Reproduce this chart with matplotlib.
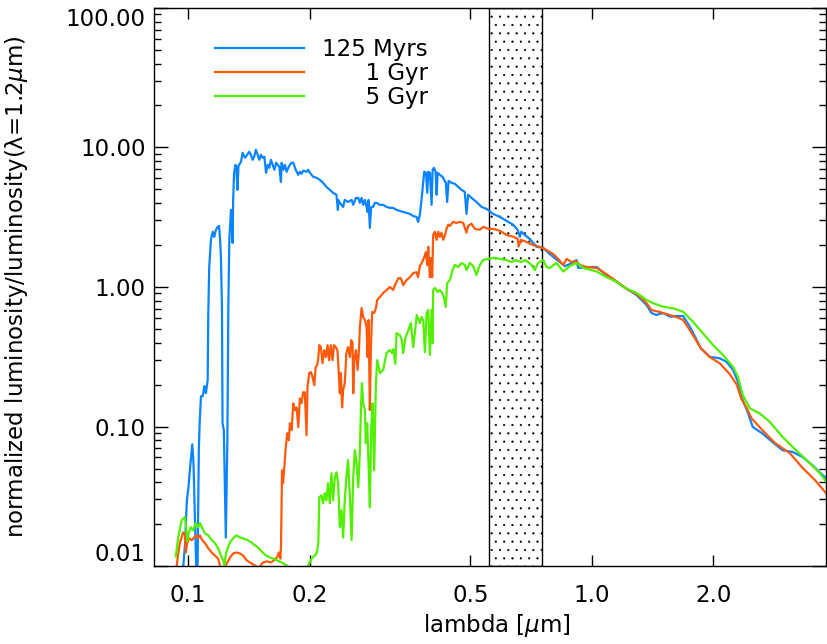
import matplotlib
matplotlib.use('Agg')
import matplotlib.pyplot as plt
from matplotlib.ticker import FixedLocator, FixedFormatter, NullLocator, LogLocator

plt.rcParams['font.family'] = ['DejaVu Sans']
plt.rcParams['hatch.linewidth'] = 0.35

# 125 Myrs population
wave_125myr = [
    0.0971, 0.0983, 0.0994, 0.1003, 0.1012, 0.1025, 0.1032, 0.1041, 0.1049, 0.1056,
    0.1064, 0.1069, 0.1077, 0.1088, 0.1098, 0.1108, 0.1119, 0.1123, 0.1129, 0.1140,
    0.1152, 0.1162, 0.1173, 0.1185, 0.1194, 0.1200, 0.1207, 0.1214, 0.1218, 0.1227,
    0.1241, 0.1252, 0.1259, 0.1266, 0.1278, 0.1285, 0.1290, 0.1294, 0.1301, 0.1311,
    0.1318, 0.1326, 0.1334, 0.1353, 0.1366, 0.1384, 0.1402, 0.1418, 0.1432, 0.1446,
    0.1459, 0.1473, 0.1488, 0.1502, 0.1517, 0.1531, 0.1546, 0.1561, 0.1576, 0.1590,
    0.1605, 0.1621, 0.1637, 0.1653, 0.1669, 0.1684, 0.1699, 0.1706, 0.1722, 0.1738,
    0.1755, 0.1772, 0.1788, 0.1806, 0.1823, 0.1841, 0.1858, 0.1875, 0.1893, 0.1911,
    0.1929, 0.1966, 0.1985, 0.2004, 0.2024, 0.2043, 0.2083, 0.2121, 0.2161, 0.2202,
    0.2245, 0.2288, 0.2332, 0.2351, 0.2358, 0.2377, 0.2422, 0.2445, 0.2493, 0.2542,
    0.2566, 0.2606, 0.2641, 0.2665, 0.2691, 0.2716, 0.2742, 0.2769, 0.2785, 0.2800,
    0.2821, 0.2842, 0.2875, 0.2903, 0.2931, 0.2987, 0.3044, 0.3102, 0.3162, 0.3223,
    0.3285, 0.3347, 0.3411, 0.3477, 0.3543, 0.3611, 0.3680, 0.3713, 0.3751, 0.3787,
    0.3824, 0.3846, 0.3884, 0.3913, 0.3936, 0.3972, 0.4011, 0.4034, 0.4064, 0.4104,
    0.4128, 0.4152, 0.4204, 0.4269, 0.4309, 0.4350, 0.4383, 0.4418, 0.4495, 0.4580,
    0.4666, 0.4757, 0.4847, 0.4894, 0.4940, 0.5036, 0.5182, 0.5333, 0.5488, 0.5696,
    0.5919, 0.6149, 0.6389, 0.6550, 0.6634, 0.6690, 0.6825, 0.7023, 0.7159, 0.7297,
    0.7580, 0.787, 0.8332, 0.8573, 0.8820, 0.9168, 0.9251, 0.9703, 1.028, 1.085,
    1.151, 1.219, 1.290, 1.366, 1.405, 1.445, 1.500, 1.560, 1.620, 1.683,
    1.748, 1.810, 1.861, 1.959, 2.074, 2.155, 2.238, 2.300, 2.364, 2.431,
    2.502, 2.645, 2.800, 2.966, 3.140, 3.325, 3.520, 3.730, 3.81]
lum_125myr = [
    0.009, 0.0141, 0.0296, 0.0367, 0.0502, 0.0746, 0.0554, 0.0213, 0.009, 0.009,
    0.0676, 0.1056, 0.1648, 0.1648, 0.1947, 0.1732, 0.215, 0.651, 1.39, 2.18,
    2.49, 2.29, 2.57, 2.70, 2.74, 2.29, 1.64, 0.719, 0.1056, 0.0941,
    0.0160, 0.0797, 0.719, 2.18, 3.57, 3.18, 2.07, 4.21, 6.59, 7.51,
    7.27, 4.97, 7.39, 7.89, 9.16, 8.44, 8.87, 9.32, 8.87, 8.16,
    8.58, 9.63, 8.87, 8.16, 8.87, 8.44, 8.58, 6.59, 7.51, 7.15,
    8.16, 7.51, 6.92, 7.77, 7.51, 7.27, 5.67, 7.77, 6.92, 7.51,
    6.70, 7.15, 7.51, 7.77, 7.77, 7.15, 6.70, 6.37, 6.70, 6.48,
    6.81, 6.70, 6.92, 6.59, 6.37, 6.16, 6.06, 5.86, 5.58, 5.22,
    4.97, 4.73, 4.58, 3.57, 4.21, 4.01, 3.75, 4.21, 4.07, 4.21,
    3.88, 4.35, 4.35, 4.01, 4.35, 3.88, 4.21, 3.75, 3.45, 4.21,
    2.65, 3.75, 3.75, 4.01, 4.01, 3.88, 3.88, 3.75, 3.69, 3.69,
    3.57, 3.51, 3.45, 3.40, 3.34, 3.23, 3.18, 2.93, 3.29, 4.21,
    5.58, 6.70, 6.59, 4.73, 6.70, 6.59, 3.88, 6.92, 7.15, 6.70,
    4.58, 6.59, 6.37, 6.16, 5.86, 5.58, 4.07, 5.76, 5.58, 5.49,
    5.22, 4.97, 4.80, 3.34, 4.58, 4.35, 4.07, 3.75, 3.63, 3.34,
    3.18, 2.98, 2.79, 2.57, 2.29, 2.49, 2.36, 2.21, 2.07, 1.94,
    1.91, 1.72, 1.51, 1.41, 1.46, 1.56, 1.37, 1.39, 1.39, 1.22,
    1.09, 0.973, 0.876, 0.743, 0.651, 0.630, 0.651, 0.613, 0.619, 0.619,
    0.519, 0.428, 0.363, 0.316, 0.308, 0.291, 0.254, 0.209, 0.154, 0.127,
    0.0994, 0.0890, 0.0775, 0.0676, 0.0657, 0.0605, 0.0527, 0.0447, 0.0426]

# 1 Gyr population
wave_1gyr = [
    0.0937, 0.0946, 0.0955, 0.0973, 0.0983, 0.0988, 0.0996, 0.1007, 0.1022, 0.1035,
    0.1050, 0.1060, 0.1071, 0.1085, 0.1102, 0.1123, 0.1145, 0.1166, 0.1188, 0.1200,
    0.1216, 0.1231, 0.1252, 0.1271, 0.1294, 0.1318, 0.1345, 0.1369, 0.1397, 0.1424,
    0.1465, 0.1499, 0.1533, 0.1568, 0.1605, 0.1633, 0.1662, 0.1679, 0.1694, 0.1700,
    0.1710, 0.1720, 0.1730, 0.1744, 0.1761, 0.1778, 0.1788, 0.1806, 0.1823, 0.1841,
    0.1858, 0.1876, 0.1893, 0.1911, 0.1929, 0.1947, 0.1966, 0.1977, 0.1996, 0.2016,
    0.2035, 0.2055, 0.2071, 0.2090, 0.2103, 0.2115, 0.2133, 0.2154, 0.2175, 0.2196,
    0.2217, 0.2236, 0.2258, 0.2280, 0.2300, 0.2323, 0.2345, 0.2363, 0.2377, 0.2391,
    0.2408, 0.2422, 0.2445, 0.2468, 0.2491, 0.2518, 0.2537, 0.2556, 0.2566, 0.2581,
    0.2606, 0.2631, 0.2651, 0.2665, 0.2691, 0.2716, 0.2742, 0.2769, 0.2785, 0.2801,
    0.2821, 0.2837, 0.2858, 0.2891, 0.2920, 0.2942, 0.2987, 0.3044, 0.3102, 0.3162,
    0.3223, 0.3255, 0.3319, 0.3366, 0.3411, 0.3477, 0.3543, 0.3611, 0.3680, 0.3713,
    0.3751, 0.3803, 0.3846, 0.3884, 0.3913, 0.3936, 0.3972, 0.3995, 0.4025, 0.4048,
    0.4088, 0.4128, 0.4166, 0.4204, 0.4245, 0.4284, 0.4325, 0.4367, 0.4407, 0.4451,
    0.4535, 0.4621, 0.4712, 0.4802, 0.4894, 0.4940, 0.5036, 0.5133, 0.5281, 0.5383,
    0.5537, 0.5696, 0.5919, 0.6149, 0.6389, 0.6550, 0.6585, 0.6672, 0.6872, 0.7159,
    0.7434, 0.7722, 0.8027, 0.8250, 0.8498, 0.8660, 0.8908, 0.9168, 0.9338, 0.9703,
    1.028, 1.085, 1.151, 1.219, 1.290, 1.366, 1.405, 1.473, 1.560, 1.620,
    1.683, 1.748, 1.810, 1.861, 1.959, 2.074, 2.196, 2.284, 2.343, 2.413,
    2.483, 2.645, 2.843, 3.091, 3.325, 3.570, 3.81]
lum_1gyr = [
    0.0098, 0.0123, 0.0146, 0.0174, 0.0168, 0.0125, 0.0146, 0.0158, 0.0153, 0.0160,
    0.0166, 0.0158, 0.0166, 0.0153, 0.0146, 0.0134, 0.0125, 0.0119, 0.0113, 0.0101,
    0.0095, 0.0097, 0.0106, 0.0115, 0.0123, 0.0125, 0.0123, 0.0119, 0.0110, 0.0106,
    0.0101, 0.0097, 0.0106, 0.0108, 0.0106, 0.0110, 0.0115, 0.0125, 0.0113, 0.0141,
    0.0486, 0.0392, 0.0486, 0.0676, 0.0895, 0.0797, 0.1056, 0.0941, 0.1466, 0.131,
    0.137, 0.0989, 0.159, 0.1466, 0.176, 0.176, 0.0866, 0.1915, 0.2417, 0.2457,
    0.2262, 0.1979, 0.2663, 0.2753, 0.3144, 0.383, 0.3705, 0.2845, 0.353, 0.3144,
    0.383, 0.299, 0.383, 0.299, 0.383, 0.3705, 0.353, 0.2417, 0.1732, 0.2417,
    0.137, 0.182, 0.2046, 0.336, 0.3705, 0.3144, 0.416, 0.396, 0.1732, 0.299,
    0.353, 0.254, 0.353, 0.5166, 0.707, 0.609, 0.58, 0.5166, 0.3144, 0.58,
    0.131, 0.353, 0.662, 0.651, 0.707, 0.807, 0.848, 0.906, 0.952, 1.0,
    0.952, 1.031, 1.156, 1.156, 1.031, 1.12, 1.176, 1.256, 1.277, 1.176,
    1.413, 1.509, 1.639, 1.78, 1.436, 1.942, 1.176, 1.612, 1.176, 2.36,
    2.49, 2.18, 2.49, 2.29, 2.45, 2.18, 2.33, 2.61, 2.79, 2.74,
    2.93, 2.88, 2.93, 2.88, 2.45, 2.74, 2.84, 2.61, 2.57, 2.70,
    2.61, 2.61, 2.53, 2.36, 2.29, 2.22, 1.95, 2.18, 2.11, 2.00,
    1.94, 1.84, 1.72, 1.59, 1.44, 1.59, 1.51, 1.53, 1.44, 1.39,
    1.37, 1.24, 1.10, 0.968, 0.891, 0.767, 0.684, 0.662, 0.630, 0.609,
    0.58, 0.491, 0.416, 0.365, 0.314, 0.284, 0.237, 0.200, 0.159, 0.137,
    0.115, 0.0941, 0.0760, 0.0644, 0.0505, 0.0412, 0.0330]

# 5 Gyr population
wave_5gyr = [
    0.0933, 0.0946, 0.0965, 0.0983, 0.0990, 0.0996, 0.1004, 0.1016, 0.1031, 0.1045,
    0.1060, 0.1071, 0.1082, 0.1102, 0.1123, 0.1145, 0.1166, 0.1188, 0.1212, 0.1222,
    0.1231, 0.1243, 0.1271, 0.1294, 0.1318, 0.1345, 0.1369, 0.1405, 0.1432, 0.1465,
    0.1489, 0.1531, 0.1561, 0.1596, 0.1627, 0.1658, 0.1706, 0.1755, 0.1806, 0.1893,
    0.1920, 0.1985, 0.2024, 0.2083, 0.2103, 0.2115, 0.2141, 0.2161, 0.2182, 0.2202,
    0.2223, 0.2245, 0.2266, 0.2288, 0.2310, 0.2332, 0.2355, 0.2377, 0.2400, 0.2422,
    0.2445, 0.2468, 0.2491, 0.2518, 0.2542, 0.2566, 0.2590, 0.2615, 0.2641, 0.2665,
    0.2681, 0.2696, 0.2716, 0.2742, 0.2757, 0.2778, 0.2800, 0.2821, 0.2842, 0.2864,
    0.2891, 0.2920, 0.2942, 0.2987, 0.3044, 0.3102, 0.3162, 0.3200, 0.3229, 0.3262,
    0.3284, 0.3347, 0.3385, 0.3411, 0.3458, 0.3515, 0.3563, 0.3611, 0.3646, 0.3686,
    0.3751, 0.3787, 0.3824, 0.3861, 0.3899, 0.3936, 0.3972, 0.4011, 0.4034, 0.4048,
    0.4088, 0.4152, 0.4204, 0.4260, 0.4300, 0.4350, 0.4383, 0.4451, 0.4520, 0.4580,
    0.4666, 0.4757, 0.4847, 0.4894, 0.4989, 0.5084, 0.5182, 0.5281, 0.5383, 0.5537,
    0.572, 0.5919, 0.6149, 0.6319, 0.6486, 0.6672, 0.6850, 0.7091, 0.7226, 0.7364,
    0.7580, 0.7722, 0.787, 0.8168, 0.8498, 0.8820, 0.9168, 0.9530, 1.028, 1.085,
    1.151, 1.195, 1.290, 1.366, 1.416, 1.500, 1.588, 1.683, 1.780, 1.885,
    1.995, 2.113, 2.238, 2.300, 2.364, 2.461, 2.605, 2.758, 2.966, 3.203,
    3.464, 3.667, 3.81]
lum_5gyr = [
    0.0117, 0.0160, 0.0213, 0.0224, 0.0190, 0.0151, 0.0171, 0.0190, 0.0180, 0.0203,
    0.0190, 0.0203, 0.0190, 0.0171, 0.0166, 0.0153, 0.0146, 0.0134, 0.0115, 0.0110,
    0.0101, 0.0125, 0.0148, 0.0158, 0.0166, 0.0160, 0.0158, 0.0153, 0.0148, 0.0141,
    0.0136, 0.0125, 0.0119, 0.0115, 0.0113, 0.0110, 0.0106, 0.0101, 0.0095, 0.0093,
    0.0090, 0.0101, 0.0113, 0.0123, 0.0146, 0.0311, 0.0321, 0.0282, 0.0332, 0.0296,
    0.0392, 0.0282, 0.0462, 0.0296, 0.0433, 0.0470, 0.0392, 0.0190, 0.0251, 0.0160,
    0.0296, 0.0433, 0.0573, 0.0311, 0.0153, 0.0433, 0.0676, 0.0545, 0.0367, 0.0676,
    0.131, 0.2046, 0.1466, 0.131, 0.0758, 0.1056, 0.0545, 0.0264, 0.0941, 0.1466,
    0.0486, 0.2046, 0.299, 0.2417, 0.254, 0.336, 0.353, 0.336, 0.359, 0.281,
    0.467, 0.452, 0.416, 0.336, 0.437, 0.491, 0.552, 0.3705, 0.467, 0.630,
    0.552, 0.609, 0.58, 0.3415, 0.651, 0.684, 0.325, 0.684, 0.396, 0.952,
    0.984, 0.921, 0.952, 0.906, 0.848, 0.720, 1.066, 1.12, 1.32, 1.44,
    1.39, 1.486, 1.44, 1.32, 1.49, 1.41, 1.22, 1.44, 1.56, 1.59,
    1.62, 1.59, 1.56, 1.51, 1.56, 1.51, 1.56, 1.44, 1.32, 1.49,
    1.56, 1.39, 1.37, 1.49, 1.29, 1.41, 1.49, 1.37, 1.29, 1.18,
    1.09, 1.0, 0.906, 0.807, 0.767, 0.722, 0.704, 0.665, 0.563, 0.465,
    0.384, 0.325, 0.267, 0.227, 0.168, 0.135, 0.124, 0.108, 0.0842, 0.0676,
    0.0546, 0.0463, 0.0400]

labels = ['125 Myrs', '\u2007\u2007\u20071 Gyr', '\u2007\u2007\u20075 Gyr']
colors = ['#0a84ff', '#ff5a0a', '#50f000']

band_lo, band_hi = 0.555, 0.752
xticks = [0.1, 0.2, 0.5, 1.0, 2.0]
xticklabels = ['0.1', '0.2', '0.5', '1.0', '2.0']
yticks = [0.01, 0.1, 1.0, 10.0, 100.0]
yticklabels = ['0.01', '0.10', '1.00', '10.00', '100.00']

FS = 16.5

fig = plt.figure(figsize=(8.27, 6.44), dpi=100)
ax = fig.add_axes([0.1862, 0.1211, 0.8126, 0.8665])

ax.axvspan(band_lo, band_hi, facecolor='none', edgecolor='black',
           hatch='..', linewidth=1.0, zorder=1)

series = [(wave_125myr, lum_125myr), (wave_1gyr, lum_1gyr), (wave_5gyr, lum_5gyr)]
for (w, l), lab, c in zip(series, labels, colors):
    ax.plot(w, l, color=c, lw=1.6, label=lab, zorder=2)

ax.set_xscale('log')
ax.set_yscale('log')
ax.set_xlim(0.0824, 3.8)
ax.set_ylim(0.01, 100)

ax.xaxis.set_major_locator(FixedLocator(xticks))
ax.xaxis.set_major_formatter(FixedFormatter(xticklabels))
ax.xaxis.set_minor_locator(NullLocator())
ax.yaxis.set_major_locator(FixedLocator(yticks))
ax.yaxis.set_major_formatter(FixedFormatter(yticklabels))
ax.yaxis.set_minor_locator(LogLocator(base=10, subs=range(2, 10)))

ax.tick_params(which='both', direction='in', top=True, right=True, width=1,
               labelsize=FS)
ax.tick_params(axis='x', which='major', length=8, pad=13)
ax.tick_params(axis='y', which='major', length=10, pad=6)
ax.tick_params(axis='y', which='minor', length=5)
for s in ax.spines.values():
    s.set_linewidth(1.0)

ylabs = ax.get_yticklabels()
ylabs[0].set_va('bottom')
ylabs[-1].set_va('top')

ax.set_xlabel(r'lambda [$\mu$m]', fontsize=FS)
ax.xaxis.set_label_coords(0.51, -0.082)
ax.set_ylabel(r'normalized luminosity/luminosity(λ=1.2$\mu$m)', fontsize=FS)
ax.yaxis.set_label_coords(-0.185, 0.5)

ax.legend(loc='upper left', bbox_to_anchor=(0.0908, 0.946), frameon=False,
          fontsize=FS, handlelength=3.9, handletextpad=0.75, labelspacing=0.05,
          borderpad=0, borderaxespad=0)

fig.savefig('out.png', dpi=100)
